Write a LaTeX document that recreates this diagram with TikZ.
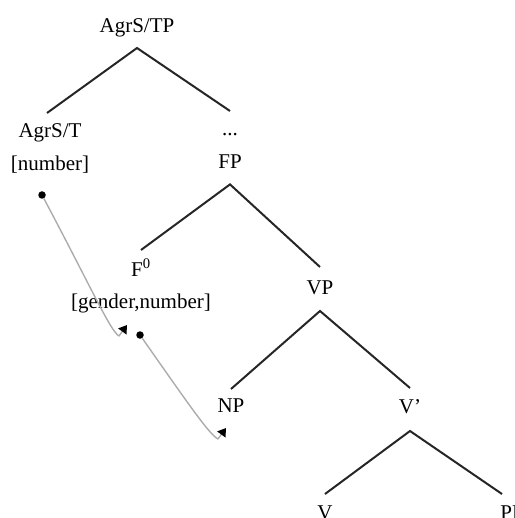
\documentclass[tikz,border=0pt]{standalone}
\usepackage{fontspec}
\setmainfont{Liberation Serif}
\usetikzlibrary{positioning,arrows.meta}
\tikzset{cat/.style={inner sep=0pt,text height=15pt,text depth=4pt,font=\fontsize{21}{25}\selectfont},
	 movedot/.style={circle,fill=black,inner sep=0pt,minimum size=7.5pt},
	 branch/.style={line width=2pt,black!85},
	 agree/.style={gray!65,line width=1.4pt,line join=round,-{Triangle[length=8pt,width=10pt,color=black]}},
	 node distance = 13pt
	 }

\begin{document}
\begin{tikzpicture}[x=1pt,y=1pt]% feature movement tree
        \useasboundingbox (0,0) rectangle (514,-518);
        \node[cat,anchor=base] (agrtp) at (137,-33) {AgrS/TP};
        \node[cat,anchor=base] (agrt) at (50,-138) {AgrS/T};
        \node[cat] (num) [below=of agrt] {[number]};
        \node[cat,anchor=base] (dots) at (230,-136) {...};
        \node[cat] (fp) [below=of dots] {FP};
        \node[cat,anchor=base] (fzero) at (141,-276) {F\textsuperscript{0}};
        \node[cat] (gennum) [below=of fzero] {[gender,number]};
        \node[cat,anchor=base] (vp) at (320,-294) {VP};
        \node[cat,anchor=base] (np) at (231,-412) {NP};
        \node[cat,anchor=base] (vbar) at (410,-413) {V'};
        \node[cat,anchor=base] (v) at (325,-519) {V};
        \node[cat,anchor=base] (pp) at (512,-519) {PP};
        \draw[branch] ([xshift=-3pt,yshift=25pt]agrt.base) -- ([yshift=-15pt]agrtp.base) -- ([yshift=25pt]dots.base);
        \draw[branch] ([yshift=26pt]fzero.base) -- ([yshift=-16pt]fp.base) -- ([yshift=27pt]vp.base);
        \draw[branch] ([yshift=23pt]np.base) -- ([yshift=-17pt]vp.base) -- ([yshift=25pt]vbar.base);
        \draw[branch] ([yshift=25pt]v.base) -- ([yshift=-18pt]vbar.base) -- ([xshift=-10pt,yshift=25pt]pp.base);
        % agreement paths
        \node[movedot] (d1) at (42,-195) {};
        \node[movedot] (d2) at (140,-335) {};
        \coordinate (c1) at (119,-336);
        \coordinate (e1) at (127,-325);
        \coordinate (c2) at (218,-439);
        \coordinate (e2) at (226,-428);
        \draw[agree] (d1) to[out=-62,in=150,out distance=100pt,in distance=10pt] (c1) -- (e1);
        \draw[agree] (d2) to[out=-55,in=150,out distance=90pt,in distance=10pt] (c2) -- (e2);
     \end{tikzpicture}
\end{document}
